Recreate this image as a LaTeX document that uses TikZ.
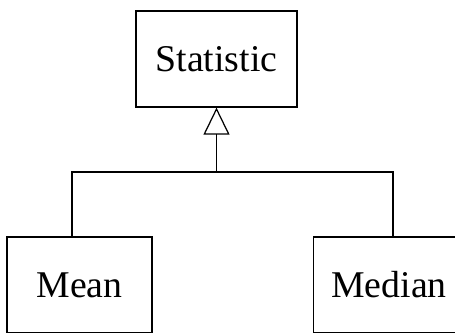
\documentclass[tikz,border=0pt]{standalone}
\usepackage{fontspec}
\setmainfont{Liberation Serif}
\usetikzlibrary{arrows.meta}

\begin{document}
\begin{tikzpicture}[x=0.02cm, y=-0.02cm, line width=0.7pt,
  every node/.style={draw, font=\fontsize{21.5}{25}\selectfont},
  inherit/.style={-{Triangle[open, width=0.52cm, length=0.54cm]}}]
\useasboundingbox (0, 0) rectangle (455, 332);
\node[minimum width=3.22cm, minimum height=1.92cm](statistic) at (216.5, 59) {Statistic};
\node[minimum width=2.9cm, minimum height=1.92cm](mean) at (79.5, 285) {Mean};
\node[minimum width=3.02cm, minimum height=1.92cm](median) at (389, 285) {Median};
\coordinate (bus) at (216.5, 172);
\draw[inherit] (bus) -- (statistic.south);
\draw ([xshift=-0.15cm]mean.north) |- (bus) -| ([xshift=0.08cm]median.north);
\end{tikzpicture}
\end{document}
